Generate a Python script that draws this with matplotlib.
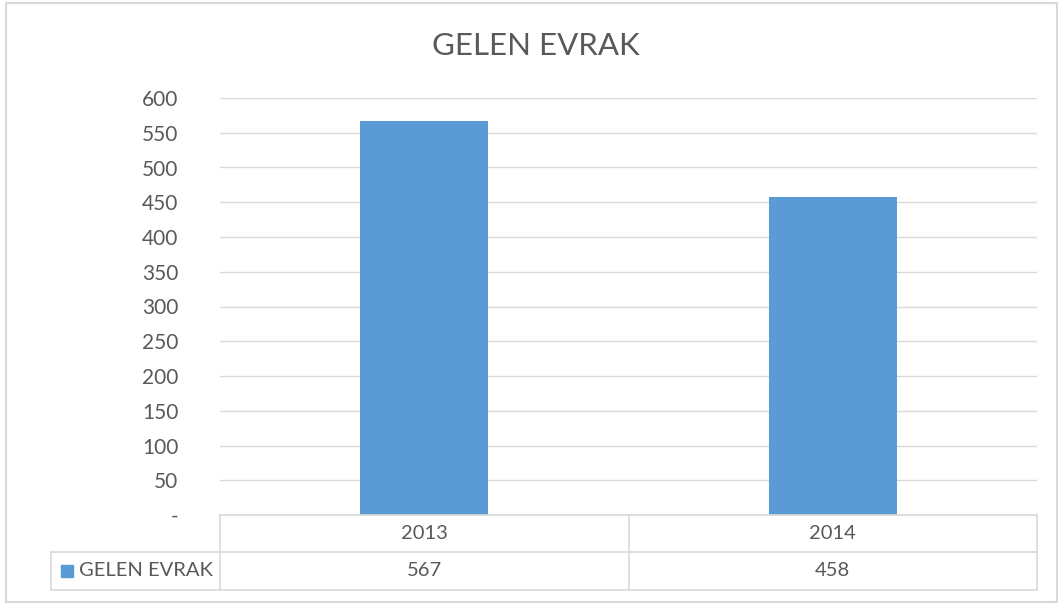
import matplotlib
matplotlib.use("Agg")
import matplotlib.pyplot as plt
from matplotlib.patches import Rectangle
from matplotlib.lines import Line2D

title = "GELEN EVRAK"
series_name = "GELEN EVRAK"
categories = ["2013", "2014"]
values = [567, 458]
yticks = [0, 50, 100, 150, 200, 250, 300, 350, 400, 450, 500, 550, 600]
ytick_labels = ["-", "50", "100", "150", "200", "250", "300", "350", "400", "450", "500", "550", "600"]

plt.rcParams['font.family'] = ['Lato', 'DejaVu Sans']
W, H = 1064, 605
fig = plt.figure(figsize=(W / 100, H / 100), dpi=100)
fig.patch.set_facecolor("white")

def fx(px):
    return px / W

def fy(py):
    return 1 - py / H

text_col = "#595959"
grid_col = "#d9d9d9"
bar_col = "#5b9bd5"
fs = 14.5

# outer chart border
fig.add_artist(Rectangle((fx(6), fy(602)), fx(1057) - fx(6), fy(3) - fy(602),
                         transform=fig.transFigure, fill=False, edgecolor=grid_col, lw=1.5))

ax_l, ax_r, ax_t, ax_b = 220, 1037, 98, 515
ax = fig.add_axes([fx(ax_l), fy(ax_b), fx(ax_r) - fx(ax_l), fy(ax_t) - fy(ax_b)])
x = list(range(len(categories)))
ax.bar(x, values, width=0.314, color=bar_col, zorder=3)
ax.set_xlim(-0.5, len(categories) - 0.5)
ax.set_ylim(0, 600)
ax.set_yticks(yticks)
ax.set_yticklabels(ytick_labels)
ax.set_xticks([])
ax.yaxis.grid(True, color=grid_col, lw=1, zorder=0)
for s in ax.spines.values():
    s.set_visible(False)
ax.tick_params(axis='y', length=0, pad=30, labelsize=fs + 0.5, labelcolor=text_col)
ax.set_facecolor("none")

fig.text(fx(536), fy(46), title, ha='center', va='center', fontsize=22.5, color=text_col)

# data table
row1_t, row1_b, row2_b = 515, 552, 590
leg_l = 51
col_edges = [ax_l + (ax_r - ax_l) * i / len(categories) for i in range(len(categories) + 1)]

def hline(y, x0, x1):
    fig.add_artist(Line2D([fx(x0), fx(x1)], [fy(y), fy(y)], transform=fig.transFigure,
                          color=grid_col, lw=1.2))

def vline(xp, y0, y1):
    fig.add_artist(Line2D([fx(xp), fx(xp)], [fy(y0), fy(y1)], transform=fig.transFigure,
                          color=grid_col, lw=1.2))

hline(row1_t, ax_l, ax_r)
hline(row1_b, leg_l, ax_r)
hline(row2_b, leg_l, ax_r)
for e in col_edges:
    vline(e, row1_t, row2_b)
vline(leg_l, row1_b, row2_b)

for i, (c, v) in enumerate(zip(categories, values)):
    cx = (col_edges[i] + col_edges[i + 1]) / 2
    fig.text(fx(cx), fy((row1_t + row1_b) / 2), c, ha='center', va='center', fontsize=fs, color=text_col)
    fig.text(fx(cx), fy((row1_b + row2_b) / 2), f"{v}", ha='center', va='center', fontsize=fs, color=text_col)

fig.add_artist(Rectangle((fx(61), fy(577)), fx(73) - fx(61), fy(565) - fy(577),
                         transform=fig.transFigure, color=bar_col))
fig.text(fx(79), fy((row1_b + row2_b) / 2), series_name, ha='left', va='center', fontsize=fs, color=text_col)

fig.savefig("out.png", dpi=100, facecolor="white")
